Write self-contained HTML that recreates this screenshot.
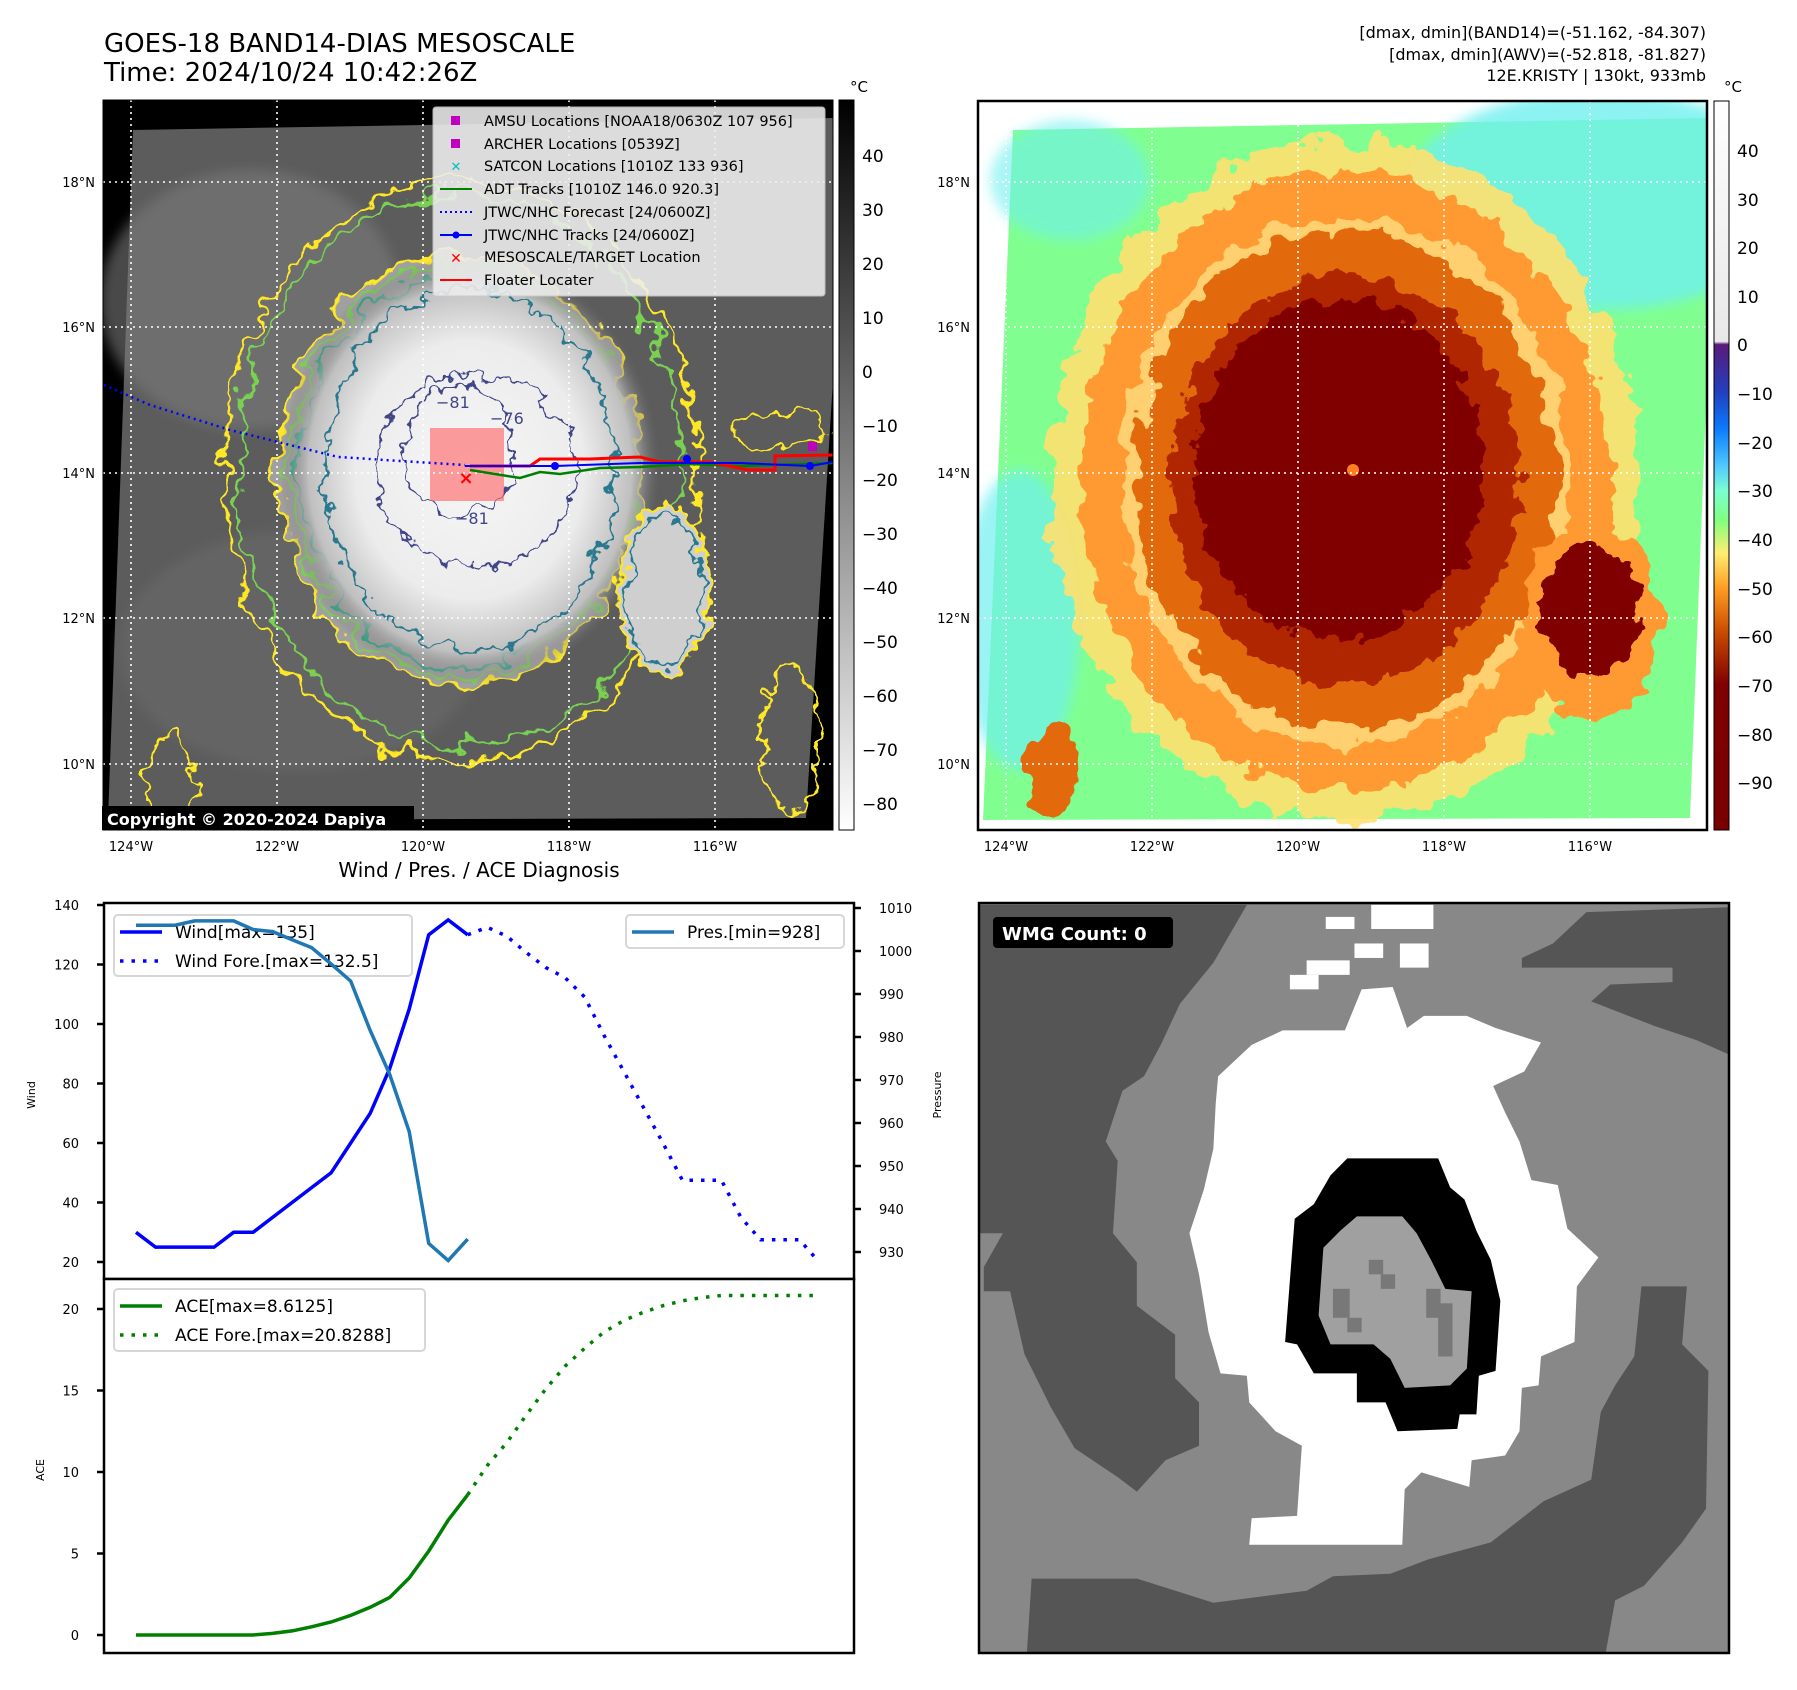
<!DOCTYPE html>
<html><head><meta charset="utf-8">
<style>
html,body{margin:0;padding:0;background:#fff;}
svg{display:block;font-family:"DejaVu Sans","Liberation Sans",sans-serif;}
</style></head>
<body>
<svg id="fig" width="1797" height="1690" viewBox="0 0 1797 1690" xmlns="http://www.w3.org/2000/svg">
<defs>
  <filter id="rough" x="-20%" y="-20%" width="140%" height="140%">
    <feTurbulence type="fractalNoise" baseFrequency="0.035" numOctaves="3" seed="3" result="n"/>
    <feDisplacementMap in="SourceGraphic" in2="n" scale="38" xChannelSelector="R" yChannelSelector="G"/>
  </filter>
  <filter id="rough2" x="-20%" y="-20%" width="140%" height="140%">
    <feTurbulence type="fractalNoise" baseFrequency="0.05" numOctaves="3" seed="7" result="n"/>
    <feDisplacementMap in="SourceGraphic" in2="n" scale="30" xChannelSelector="R" yChannelSelector="G"/>
  </filter>
  <filter id="blur6"><feGaussianBlur stdDeviation="6"/></filter>
  <radialGradient id="cloud" cx="0.5" cy="0.5" r="0.5">
    <stop offset="0" stop-color="#f6f6f6"/><stop offset="0.6" stop-color="#ececec"/><stop offset="0.85" stop-color="#c0c0c0"/><stop offset="1" stop-color="#6a6a6a" stop-opacity="0"/>
  </radialGradient>
  <linearGradient id="cbGray" x1="0" y1="0" x2="0" y2="1">
    <stop offset="0" stop-color="#000"/><stop offset="1" stop-color="#fff"/>
  </linearGradient>
  <linearGradient id="cbColor" x1="0" y1="0" x2="0" y2="1">
    <stop offset="0" stop-color="#ffffff"/><stop offset="0.33" stop-color="#e8e8e8"/>
    <stop offset="0.334" stop-color="#5a1a7a"/><stop offset="0.40" stop-color="#2040c0"/>
    <stop offset="0.45" stop-color="#0a7cff"/><stop offset="0.50" stop-color="#50c8ff"/>
    <stop offset="0.535" stop-color="#7affd0"/><stop offset="0.575" stop-color="#80ff80"/>
    <stop offset="0.62" stop-color="#ffee70"/><stop offset="0.67" stop-color="#ff9a20"/>
    <stop offset="0.73" stop-color="#c84a00"/><stop offset="0.80" stop-color="#800000"/>
    <stop offset="1" stop-color="#7a0000"/>
  </linearGradient>
  <clipPath id="clipL"><rect x="103" y="100" width="730" height="730"/></clipPath>
  <clipPath id="clipR"><rect x="978" y="101" width="729" height="729"/></clipPath>
  <clipPath id="clipB"><rect x="979" y="903" width="750" height="750"/></clipPath>
</defs>

<!-- titles -->
<text x="104" y="52" font-size="26">GOES-18 BAND14-DIAS MESOSCALE</text>
<text x="104" y="81" font-size="26">Time: 2024/10/24 10:42:26Z</text>
<g font-size="16" text-anchor="end">
<text x="1706" y="38">[dmax, dmin](BAND14)=(-51.162, -84.307)</text>
<text x="1706" y="60">[dmax, dmin](AWV)=(-52.818, -81.827)</text>
<text x="1706" y="81">12E.KRISTY | 130kt, 933mb</text>
</g>

<!-- LEFT MAP -->
<g clip-path="url(#clipL)">
  <rect x="103" y="100" width="730" height="730" fill="#000"/>
  <polygon points="133,130 833,118 833,380 806,818 108,820" fill="#5c5c5c"/>
  <ellipse cx="250" cy="300" rx="150" ry="130" fill="#7a7a7a" opacity="0.6" filter="url(#blur6)"/>
  <ellipse cx="300" cy="650" rx="180" ry="120" fill="#6a6a6a" opacity="0.6" filter="url(#blur6)"/>
  <g filter="url(#rough)" fill="none">
    <ellipse cx="460" cy="470" rx="235" ry="290" stroke="#fde725" stroke-width="3"/>
    <ellipse cx="460" cy="470" rx="222" ry="275" stroke="#7ad151" stroke-width="3"/>
    <ellipse cx="460" cy="470" rx="180" ry="215" stroke="#fde725" stroke-width="3" fill="#a0a0a0"/>
    <ellipse cx="460" cy="470" rx="170" ry="205" stroke="#7ad151" stroke-width="3"/>
    <ellipse cx="460" cy="470" rx="160" ry="195" stroke="#22a884" stroke-width="3"/>
  </g>
  <ellipse cx="470" cy="470" rx="190" ry="215" fill="url(#cloud)"/>
  <g filter="url(#rough2)" fill="none">
    <ellipse cx="470" cy="470" rx="145" ry="180" stroke="#2a788e" stroke-width="2.5"/>
    <ellipse cx="665" cy="590" rx="45" ry="85" stroke="#fde725" stroke-width="3" fill="#cfcfcf"/>
    <ellipse cx="665" cy="590" rx="38" ry="75" stroke="#2a788e" stroke-width="2.5"/>
    <ellipse cx="475" cy="470" rx="100" ry="95" stroke="#414487" stroke-width="2"/>
    <ellipse cx="460" cy="450" rx="55" ry="65" stroke="#414487" stroke-width="2"/>
    <ellipse cx="780" cy="430" rx="50" ry="18" stroke="#fde725" stroke-width="3"/>
    <ellipse cx="790" cy="740" rx="30" ry="70" stroke="#fde725" stroke-width="3"/>
    <ellipse cx="170" cy="780" rx="25" ry="45" stroke="#fde725" stroke-width="3"/>
  </g>
  <rect x="430" y="428" width="74" height="73" fill="#ff6a6a" opacity="0.65"/>
  <g stroke="#fff" stroke-width="1.6" stroke-dasharray="2 4">
    <line x1="131" y1="100" x2="131" y2="830"/><line x1="277" y1="100" x2="277" y2="830"/>
    <line x1="423" y1="100" x2="423" y2="830"/><line x1="569" y1="100" x2="569" y2="830"/>
    <line x1="715" y1="100" x2="715" y2="830"/>
    <line x1="103" y1="182" x2="833" y2="182"/><line x1="103" y1="327" x2="833" y2="327"/>
    <line x1="103" y1="473" x2="833" y2="473"/><line x1="103" y1="618" x2="833" y2="618"/>
    <line x1="103" y1="764" x2="833" y2="764"/>
  </g>
  <polyline points="104,385 150,405 230,430 338,457 433,463 465,465" fill="none" stroke="#0000ff" stroke-width="2.5" stroke-dasharray="2 4"/>
  <polyline points="470,470 520,478 540,472 560,474 600,468 640,467 690,464 740,466 833,463" fill="none" stroke="#008000" stroke-width="2.5"/>
  <polyline points="470,466 530,466 540,459 590,459 640,457 660,462 710,462 748,470 775,470 775,456 833,455" fill="none" stroke="#ff0000" stroke-width="3"/>
  <polyline points="465,466 555,466 640,463 740,463 810,466 833,462" fill="none" stroke="#0000ff" stroke-width="2"/>
  <g fill="#0000ff"><circle cx="555" cy="466" r="4"/><circle cx="687" cy="459" r="4"/><circle cx="810" cy="466" r="4"/></g>
  <rect x="808" y="442" width="9" height="9" fill="#bf00bf"/>
  <text x="466" y="484" font-size="18" font-weight="bold" fill="#ff0000" text-anchor="middle">×</text>
  <g font-size="16" fill="#414487">
    <text x="436" y="408">−81</text><text x="490" y="424">−76</text><text x="455" y="524">−81</text>
  </g>
</g>
<rect x="103" y="100" width="730" height="730" fill="none" stroke="#000" stroke-width="1"/>
<g>
  <rect x="102" y="806" width="312" height="24" fill="#000"/>
  <text x="107" y="825" font-size="16" font-weight="bold" fill="#fff">Copyright © 2020-2024 Dapiya</text>
</g>
<!-- map legend -->
<g font-size="14.5">
  <rect x="433" y="107" width="392" height="189" rx="3" fill="#eeeeee" opacity="0.88" stroke="#ccc"/>
  <rect x="451" y="116" width="9" height="9" fill="#bf00bf"/><text x="484" y="126">AMSU Locations [NOAA18/0630Z 107 956]</text>
  <rect x="451" y="139" width="9" height="9" fill="#bf00bf"/><text x="484" y="149">ARCHER Locations [0539Z]</text>
  <text x="456" y="171" text-anchor="middle" fill="#00bfbf" font-weight="bold" font-size="13">✕</text><text x="484" y="171">SATCON Locations [1010Z 133 936]</text>
  <line x1="440" y1="189" x2="472" y2="189" stroke="#008000" stroke-width="2"/><text x="484" y="194">ADT Tracks [1010Z 146.0 920.3]</text>
  <line x1="440" y1="212" x2="472" y2="212" stroke="#0000ff" stroke-width="2" stroke-dasharray="2 3"/><text x="484" y="217">JTWC/NHC Forecast [24/0600Z]</text>
  <line x1="440" y1="235" x2="472" y2="235" stroke="#0000ff" stroke-width="2"/><circle cx="456" cy="235" r="3.5" fill="#0000ff"/><text x="484" y="240">JTWC/NHC Tracks [24/0600Z]</text>
  <text x="456" y="263" text-anchor="middle" fill="#ff0000" font-weight="bold" font-size="14">✕</text><text x="484" y="262">MESOSCALE/TARGET Location</text>
  <line x1="440" y1="280" x2="472" y2="280" stroke="#ff0000" stroke-width="2"/><text x="484" y="285">Floater Locater</text>
</g>
<g font-size="13" text-anchor="end">
  <text x="95" y="187">18°N</text><text x="95" y="332">16°N</text><text x="95" y="478">14°N</text><text x="95" y="623">12°N</text><text x="95" y="769">10°N</text>
</g>
<g font-size="13" text-anchor="middle">
  <text x="131" y="851">124°W</text><text x="277" y="851">122°W</text><text x="423" y="851">120°W</text><text x="569" y="851">118°W</text><text x="715" y="851">116°W</text>
</g>
<!-- left colorbar -->
<g>
  <rect x="839" y="100" width="15" height="730" fill="url(#cbGray)" stroke="#000" stroke-width="1"/>
  <text x="850" y="92" font-size="15">°C</text>
  <g font-size="17">
    <text x="862" y="162">40</text><text x="862" y="216">30</text><text x="862" y="270">20</text><text x="862" y="324">10</text><text x="862" y="378">0</text>
    <text x="862" y="432">−10</text><text x="862" y="486">−20</text><text x="862" y="540">−30</text><text x="862" y="594">−40</text><text x="862" y="648">−50</text>
    <text x="862" y="702">−60</text><text x="862" y="756">−70</text><text x="862" y="810">−80</text>
  </g>
</g>

<!-- RIGHT MAP -->
<g clip-path="url(#clipR)">
  <rect x="978" y="101" width="729" height="729" fill="#fff"/>
  <polygon points="1013,130 1707,118 1707,380 1690,818 983,820" fill="#80ff90"/>
  <ellipse cx="1600" cy="200" rx="200" ry="110" fill="#70f0f0" opacity="0.8" filter="url(#blur6)"/>
  <ellipse cx="1020" cy="620" rx="60" ry="150" fill="#70f0f0" opacity="0.7" filter="url(#blur6)"/>
  <ellipse cx="1070" cy="180" rx="80" ry="60" fill="#70f0f0" opacity="0.6" filter="url(#blur6)"/>
  <g filter="url(#rough)">
    <ellipse cx="1345" cy="480" rx="295" ry="340" fill="#ffe070" opacity="0.9"/>
    <ellipse cx="1345" cy="480" rx="265" ry="310" fill="#ff9a30"/>
    <ellipse cx="1345" cy="480" rx="225" ry="265" fill="#ffd070"/>
    <ellipse cx="1345" cy="480" rx="210" ry="250" fill="#e26a10"/>
    <ellipse cx="1590" cy="620" rx="70" ry="100" fill="#ff9a30"/>
    <ellipse cx="1050" cy="770" rx="25" ry="45" fill="#e26a10"/>
  </g>
  <g filter="url(#rough2)">
    <ellipse cx="1345" cy="480" rx="175" ry="205" fill="#b02800"/>
    <ellipse cx="1340" cy="470" rx="145" ry="170" fill="#800000"/>
    <ellipse cx="1590" cy="610" rx="50" ry="65" fill="#800000"/>
  </g>
  <circle cx="1353" cy="470" r="6" fill="#ff8020"/>
  <g stroke="#fff" stroke-width="1.6" stroke-dasharray="2 4">
    <line x1="1006" y1="101" x2="1006" y2="830"/><line x1="1152" y1="101" x2="1152" y2="830"/>
    <line x1="1298" y1="101" x2="1298" y2="830"/><line x1="1444" y1="101" x2="1444" y2="830"/>
    <line x1="1590" y1="101" x2="1590" y2="830"/>
    <line x1="978" y1="182" x2="1707" y2="182"/><line x1="978" y1="327" x2="1707" y2="327"/>
    <line x1="978" y1="473" x2="1707" y2="473"/><line x1="978" y1="618" x2="1707" y2="618"/>
    <line x1="978" y1="764" x2="1707" y2="764"/>
  </g>
</g>
<rect x="978" y="101" width="729" height="729" fill="none" stroke="#000" stroke-width="2.5"/>
<g font-size="13" text-anchor="end">
  <text x="970" y="187">18°N</text><text x="970" y="332">16°N</text><text x="970" y="478">14°N</text><text x="970" y="623">12°N</text><text x="970" y="769">10°N</text>
</g>
<g font-size="13" text-anchor="middle">
  <text x="1006" y="851">124°W</text><text x="1152" y="851">122°W</text><text x="1298" y="851">120°W</text><text x="1444" y="851">118°W</text><text x="1590" y="851">116°W</text>
</g>
<g>
  <rect x="1714" y="101" width="15" height="729" fill="url(#cbColor)" stroke="#000" stroke-width="1"/>
  <text x="1724" y="92" font-size="15">°C</text>
  <g font-size="17">
    <text x="1737" y="157">40</text><text x="1737" y="206">30</text><text x="1737" y="254">20</text><text x="1737" y="303">10</text><text x="1737" y="351">0</text>
    <text x="1737" y="400">−10</text><text x="1737" y="449">−20</text><text x="1737" y="497">−30</text><text x="1737" y="546">−40</text><text x="1737" y="595">−50</text>
    <text x="1737" y="643">−60</text><text x="1737" y="692">−70</text><text x="1737" y="741">−80</text><text x="1737" y="789">−90</text>
  </g>
</g>

<!-- WMG panel -->
<g clip-path="url(#clipB)">
  <g transform="translate(979,900) scale(0.4783,0.483)">
    <rect x="0" y="0" width="1568" height="1560" fill="#888"/>
    <polygon fill="#555" points="0,10 560,10 490,130 420,215 380,300 345,365 300,395 265,500 290,540 280,690 330,750 330,840 410,900 410,990 460,1040 460,1130 390,1160 330,1225 290,1195 200,1135 150,1050 95,940 65,810 10,810 10,760 50,690 0,690"/>
    <polygon fill="#555" points="1200,90 1270,25 1568,15 1568,320 1500,290 1410,260 1280,210 1320,175 1450,170 1450,140 1135,140 1135,120"/>
    <polygon fill="#555" points="100,1560 1310,1560 1330,1450 1390,1420 1470,1330 1520,1260 1525,975 1470,920 1480,800 1385,800 1370,945 1330,1005 1300,1060 1280,1200 1180,1245 1070,1330 940,1365 860,1395 740,1400 685,1430 490,1455 330,1405 110,1405"/>
    <polygon fill="#fff" points="500,365 570,300 635,270 765,270 800,185 865,180 895,265 930,240 1020,240 1080,265 1175,295 1140,355 1075,385 1100,440 1130,500 1155,580 1210,590 1230,680 1295,740 1250,800 1245,915 1175,945 1170,1005 1135,1010 1130,1100 1100,1150 1030,1160 1025,1215 925,1185 890,1220 885,1335 565,1335 570,1280 665,1275 675,1130 620,1100 565,1040 560,985 505,980 480,895 460,775 440,690 470,600 490,515 495,420"/>
    <g fill="#fff"><rect x="725" y="35" width="60" height="25"/><rect x="820" y="10" width="130" height="50"/><rect x="785" y="90" width="60" height="30"/><rect x="880" y="90" width="60" height="50"/><rect x="685" y="125" width="90" height="30"/><rect x="650" y="155" width="60" height="30"/></g>
    <polygon fill="#000" points="770,535 960,535 985,595 1015,620 1040,685 1070,745 1090,830 1080,975 1045,985 1040,1065 1005,1065 1000,1095 875,1100 850,1040 790,1040 790,980 700,980 665,920 640,915 660,660 700,630 735,570"/>
    <polygon fill="#a0a0a0" points="790,655 885,655 915,690 945,745 975,805 1030,810 1020,970 985,1005 890,1010 860,950 825,920 735,920 710,860 720,720 755,685"/>
    <g fill="#787878"><rect x="815" y="745" width="30" height="30"/><rect x="840" y="775" width="30" height="30"/><rect x="740" y="805" width="35" height="60"/><rect x="770" y="865" width="30" height="30"/><rect x="935" y="805" width="30" height="60"/><rect x="960" y="835" width="30" height="110"/></g>
  </g>
</g>
<rect x="979" y="903" width="750" height="750" fill="none" stroke="#000" stroke-width="2.5"/>
<g>
  <rect x="993" y="917" width="180" height="31" rx="4" fill="#000"/>
  <text x="1002" y="940" font-size="18" font-weight="bold" fill="#fff">WMG Count: 0</text>
</g>

<!-- Diagnosis chart -->
<text x="479" y="877" font-size="20" text-anchor="middle">Wind / Pres. / ACE Diagnosis</text>
<g id="chart"></g>
</svg>
<script>
const windObs = [30,25,25,25,25,30,30,35,40,45,50,60,70,85,105,130,135,130];
const windFore = [130,132.5,129.5,124,119,115.5,109,96,84,72,60,47.5,47.5,47.5,35,27.5,27.5,27.5,20];
const presObs = [1006,1006,1006,1007,1007,1007,1005,1004.5,1002.6,1000.8,997,993,981.5,971.3,958,932,928,933];
const aceObs = [0,0,0,0,0,0,0,0.1,0.25,0.5,0.8,1.2,1.7,2.3,3.5,5.15,7.05,8.6];
const aceFore = [8.6,10.4,11.8,13.5,15.1,16.5,17.6,18.6,19.3,19.8,20.2,20.5,20.7,20.83,20.83,20.83,20.83,20.83,20.83];
const windTicks = [20,40,60,80,100,120,140];
const presTicks = [930,940,950,960,970,980,990,1000,1010];
const aceTicks = [0,5,10,15,20];

const NS = 'http://www.w3.org/2000/svg';
const chart = document.getElementById('chart');
const X0 = 136, X1 = 819, NPTS = 35;
function xs(i){ return X0 + i*(X1-X0)/NPTS; }
function wy(v){ return 905 + (140-v)*357/120; }
function py(p){ return 908 + (1010-p)*4.3; }
function ay(a){ return 1635 - a*16.3; }
function mk(tag, attrs, parent){ const e=document.createElementNS(NS,tag); for(const k in attrs) e.setAttribute(k,attrs[k]); (parent||chart).appendChild(e); return e; }
function pts(arr, off, yf){ return arr.map((v,i)=>xs(i+off).toFixed(1)+','+yf(v).toFixed(1)).join(' '); }

let f1 = mk('rect',{x:104,y:903,width:750,height:376,fill:'#fff',stroke:'#000','stroke-width':2.5});


let f2 = mk('rect',{x:104,y:1279,width:750,height:374,fill:'#fff',stroke:'#000','stroke-width':2.5});



windTicks.forEach(v=>{
  const y=wy(v);
  let t=mk('line',{x1:97,y1:y,x2:104,y2:y,stroke:'#000','stroke-width':2.5});
  
  
  let l=mk('text',{x:79,y:y+5,'font-size':13,'text-anchor':'end'}); l.textContent=v;
  
  
});
presTicks.forEach(v=>{
  const y=py(v);
  let t=mk('line',{x1:854,y1:y,x2:861,y2:y,stroke:'#000','stroke-width':2.5});
  
  
  let l=mk('text',{x:879,y:y+5,'font-size':13}); l.textContent=v;
  
  
});
aceTicks.forEach(v=>{
  const y=ay(v);
  let t=mk('line',{x1:97,y1:y,x2:104,y2:y,stroke:'#000','stroke-width':2.5});
  
  
  let l=mk('text',{x:79,y:y+5,'font-size':13,'text-anchor':'end'}); l.textContent=v;
  
  
});
let yl1=mk('text',{x:0,y:0,'font-size':11,'text-anchor':'middle',transform:'translate(35,1095) rotate(-90)'}); yl1.textContent='Wind';


let yl2=mk('text',{x:0,y:0,'font-size':11,'text-anchor':'middle',transform:'translate(44,1470) rotate(-90)'}); yl2.textContent='ACE';


let yl3=mk('text',{x:0,y:0,'font-size':11,'text-anchor':'middle',transform:'translate(941,1095) rotate(-90)'}); yl3.textContent='Pressure';



let s1=mk('polyline',{points:pts(windObs,0,wy),fill:'none',stroke:'#0000ff','stroke-width':3.5});


let s2=mk('polyline',{points:pts(windFore,17,wy),fill:'none',stroke:'#0000ff','stroke-width':3.5,'stroke-dasharray':'3.5 8'});


let s3=mk('polyline',{points:pts(presObs,0,py),fill:'none',stroke:'#1f77b4','stroke-width':3.5});


let s4=mk('polyline',{points:pts(aceObs,0,ay),fill:'none',stroke:'#008000','stroke-width':3.5});


let s5=mk('polyline',{points:pts(aceFore,17,ay),fill:'none',stroke:'#008000','stroke-width':3.5,'stroke-dasharray':'3.5 8'});



function legend(name, x, y, w, h, items){
  const g=mk('g',{});
  
  
  mk('rect',{x:x,y:y,width:w,height:h,rx:4,fill:'#fff','fill-opacity':0.8,stroke:'#d6d6d6','stroke-width':2},g);
  items.forEach((it,k)=>{
    const cy=y+17+k*29;
    mk('line',{x1:x+6,y1:cy,x2:x+48,y2:cy,stroke:it.c,'stroke-width':3.5,'stroke-dasharray':it.d||'none'},g);
    const t=mk('text',{x:x+61,y:cy+6,'font-size':17},g); t.textContent=it.t;
  });
}
legend('wind-legend',114,915,298,61,[{c:'#0000ff',t:'Wind[max=135]'},{c:'#0000ff',d:'3.5 8',t:'Wind Fore.[max=132.5]'}]);
legend('pressure-legend',626,915,218,33,[{c:'#1f77b4',t:'Pres.[min=928]'}]);
legend('ace-legend',114,1289,311,62,[{c:'#008000',t:'ACE[max=8.6125]'},{c:'#008000',d:'3.5 8',t:'ACE Fore.[max=20.8288]'}]);
chart.appendChild(s3);
</script>
</body></html>
